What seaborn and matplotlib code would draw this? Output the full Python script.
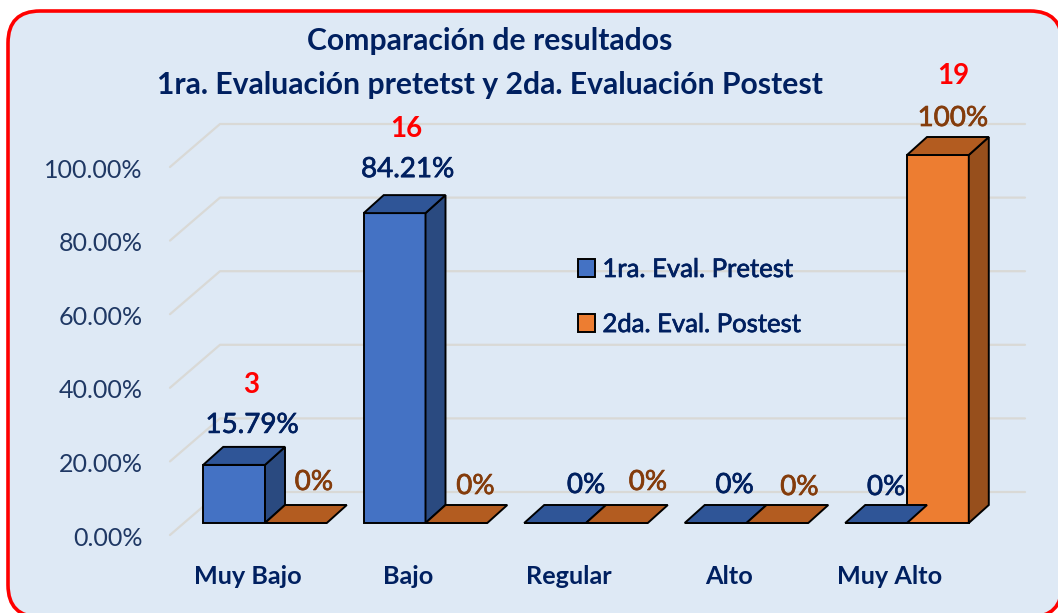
import numpy as np
import pandas as pd
import matplotlib
matplotlib.use("Agg")
import matplotlib.pyplot as plt
import matplotlib.patheffects as pe
from matplotlib.patches import FancyBboxPatch, Polygon
from matplotlib.transforms import ScaledTranslation
import seaborn as sns

categories = ["Muy Bajo", "Bajo", "Regular", "Alto", "Muy Alto"]
pretest = [15.79, 84.21, 0, 0, 0]
postest = [0, 0, 0, 0, 100]
pretest_labels = ["15.79%", "84.21%", "0%", "0%", "0%"]
postest_labels = ["0%", "0%", "0%", "0%", "100%"]
series_names = ["1ra. Eval. Pretest", "2da. Eval. Postest"]
counts_pre = {0: "3", 1: "16"}
counts_post = {4: "19"}
y_ticks = [0, 20, 40, 60, 80, 100]

NAVY = "#1F3864"
TITLE = "#002060"
BROWN = "#843C0C"
BG = "#DEE9F5"
W, H = 1058, 613

sns.set_theme(style="white")
plt.rcParams["font.family"] = ["Lato", "DejaVu Sans"]


def heavier(color, w=0.5):
    # Lato has no usable medium weight here, thicken the regular a little
    return [pe.withStroke(linewidth=w, foreground=color)]


df = pd.DataFrame({
    "cat": categories * 2,
    "val": pretest + postest,
    "serie": [series_names[0]] * 5 + [series_names[1]] * 5,
})

fig = plt.figure(figsize=(W / 100, H / 100), dpi=100, facecolor="white")

# rounded panel behind everything
bg = fig.add_axes([0, 0, 1, 1])
bg.set_xlim(0, W)
bg.set_ylim(H, 0)
bg.axis("off")
bg.add_patch(FancyBboxPatch((8, 11), 1054, 606, boxstyle="round,pad=0,rounding_size=32",
                            fc=BG, ec="#FF0000", lw=2.6, clip_on=False))

# front plane of the fake 3d chart: 1 category = 160.5 px, 1 % = 3.68 px
left, right, top, bottom = 170, 1030, 155, 523
ax = fig.add_axes([left / W, 1 - bottom / H, (right - left) / W, (bottom - top) / H])
ax.patch.set_alpha(0)

sns.barplot(data=df, x="cat", y="val", hue="serie", palette=["#4472C4", "#ED7D31"],
            width=0.77, gap=0, saturation=1, edgecolor="black", linewidth=1.4, ax=ax, zorder=3)

ax.set_xlim((left - 265) / 160.5, (right - 265) / 160.5)
ax.set_ylim(0, 100)
sns.despine(ax=ax, left=True, bottom=True)
ax.set_xlabel("")
ax.set_ylabel("")

px_x = 1 / 160.5
px_y = 1 / 3.68

# back wall gridlines
for v in y_ticks:
    ax.plot([-95 * px_x, -45 * px_x, (1025 - 265) * px_x],
            [v - 12 * px_y, v + 31 * px_y, v + 31 * px_y],
            color="#D9D9D6", lw=1.6, zorder=1, clip_on=False)

# side and top faces for each bar
dx, dy = 20 * px_x, 18 * px_y
faces = [("#2F5597", "#2A4A80"), ("#B35C20", "#974F1C")]
bars = [b for b in ax.patches if b.get_width() > 0][:10]
for i, b in enumerate(bars):
    x0, x1, h = b.get_x(), b.get_x() + b.get_width(), b.get_height()
    c_top, c_side = faces[i // 5]
    if h > 0:
        ax.add_patch(Polygon([(x1, 0), (x1 + dx, dy), (x1 + dx, h + dy), (x1, h)], closed=True,
                             fc=c_side, ec="black", lw=1.4, zorder=4, clip_on=False))
    ax.add_patch(Polygon([(x0, h), (x1, h), (x1 + dx, h + dy), (x0 + dx, h + dy)], closed=True,
                         fc=c_top, ec="black", lw=1.4, zorder=4, clip_on=False))
    b.set_clip_on(False)

# tick labels sit lower and more to the left than the front plane
ax.set_yticks(y_ticks)
ax.set_yticklabels([f"{v:.2f}%" for v in y_ticks], fontsize=18, color=NAVY)
ax.tick_params(axis="y", length=0, pad=19.5)
ax.tick_params(axis="x", length=0, pad=30)
ax.set_xticks(range(5))
ax.set_xticklabels(categories, fontsize=18.2, fontweight="bold", color=TITLE)
for t in ax.get_yticklabels():
    t.set_transform(t.get_transform() + ScaledTranslation(0, -0.13, fig.dpi_scale_trans))
for t in ax.get_xticklabels():
    t.set_transform(t.get_transform() + ScaledTranslation(-0.17, 0, fig.dpi_scale_trans))

# data labels, offsets in px from the bar top centre
pre_off = [(18, 40), (13, 44), (31, 38), (19, 38), (10, 36)]
post_off = [(18, 41), (19, 37), (31, 41), (22, 36), (15, 37)]
for i in range(5):
    b = bars[i]
    cx = b.get_x() + b.get_width() / 2
    ax.annotate(pretest_labels[i], (cx, pretest[i]), xytext=(pre_off[i][0] * .72, pre_off[i][1] * .72),
                textcoords="offset points", ha="center", va="center", fontsize=20,
                color=TITLE, annotation_clip=False, zorder=6, path_effects=heavier(TITLE))
    if i in counts_pre:
        ax.annotate(counts_pre[i], (cx, pretest[i]), xytext=((pre_off[i][0] - 1) * .72, (pre_off[i][1] + 40) * .72),
                    textcoords="offset points", ha="center", va="center", fontsize=20,
                    fontweight="bold", color="#FF0000", annotation_clip=False, zorder=6)
    b = bars[i + 5]
    cx = b.get_x() + b.get_width() / 2
    ax.annotate(postest_labels[i], (cx, postest[i]), xytext=(post_off[i][0] * .72, post_off[i][1] * .72),
                textcoords="offset points", ha="center", va="center", fontsize=20,
                color=BROWN, annotation_clip=False, zorder=6, path_effects=heavier(BROWN))
    if i in counts_post:
        ax.annotate(counts_post[i], (cx, postest[i]), xytext=(post_off[i][0] * .72, (post_off[i][1] + 42) * .72),
                    textcoords="offset points", ha="center", va="center", fontsize=20,
                    fontweight="bold", color="#FF0000", annotation_clip=False, zorder=6)

sns.move_legend(ax, "upper left", bbox_to_anchor=((578 - left) / (right - left), (bottom - 257) / (bottom - top)),
                title=None, frameon=False, fontsize=18.5, labelspacing=1.17, handlelength=0.65,
                handleheight=0.65, handletextpad=0.3, borderaxespad=0, borderpad=0,
                labelcolor=TITLE)
for t in ax.get_legend().get_texts():
    t.set_path_effects(heavier(TITLE))

fig.text(490 / W, 1 - 41 / H, "Comparación de resultados", ha="center", va="center",
         fontsize=21.7, fontweight="bold", color=TITLE)
fig.text(490 / W, 1 - 85 / H, "1ra. Evaluación pretetst y 2da. Evaluación Postest", ha="center", va="center",
         fontsize=21.7, fontweight="bold", color=TITLE)

fig.savefig("out.png", dpi=100)
